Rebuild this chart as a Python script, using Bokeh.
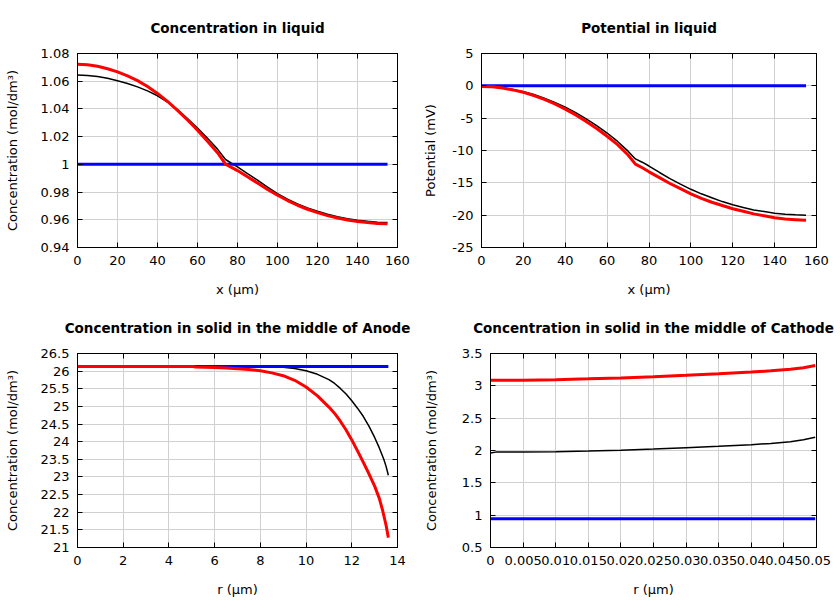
from bokeh.plotting import figure
from bokeh.layouts import column, row
from bokeh.models import LinearAxis, FixedTicker, CustomJSTickFormatter, Range1d
from bokeh.embed import file_html
from bokeh.resources import INLINE

# ---------------- data ----------------
# Concentration in liquid
liq_x = [0, 5, 10, 15, 20, 25, 30, 35, 40, 45, 50, 55, 60, 65, 70, 74, 77, 80, 85, 90,
         95, 100, 105, 110, 115, 120, 125, 130, 135, 140, 145, 150, 155]
liq_c_red = [1.0722, 1.0719, 1.0708, 1.0690, 1.0667, 1.0638, 1.0604, 1.0562, 1.0512,
             1.0454, 1.0390, 1.0320, 1.0247, 1.0167, 1.0084, 1.0002, 0.9978, 0.9955,
             0.9910, 0.9865, 0.9819, 0.9777, 0.9739, 0.9705, 0.9676, 0.9652, 0.9630,
             0.9613, 0.9599, 0.9588, 0.9580, 0.9574, 0.9571]
liq_c_black = [1.0645, 1.0642, 1.0634, 1.0621, 1.0604, 1.0584, 1.0559, 1.0530, 1.0495,
               1.0450, 1.0395, 1.0330, 1.0262, 1.0188, 1.0110, 1.0035, 1.0008, 0.9982,
               0.9934, 0.9886, 0.9835, 0.9788, 0.9749, 0.9715, 0.9686, 0.9662, 0.9640,
               0.9622, 0.9608, 0.9597, 0.9589, 0.9583, 0.9580]
liq_c_blue_x = [0, 155]
liq_c_blue = [1.0, 1.0]

# Potential in liquid
pot_x = [0, 5, 10, 15, 20, 25, 30, 35, 40, 45, 50, 55, 60, 65, 70, 73.5, 77, 80, 85, 90,
         95, 100, 105, 110, 115, 120, 125, 130, 135, 140, 145, 150, 155]
pot_red = [-0.1, -0.15, -0.35, -0.63, -1.0, -1.5, -2.1, -2.8, -3.6, -4.5, -5.5, -6.6,
           -7.8, -9.1, -10.7, -12.1, -12.7, -13.3, -14.2, -15.1, -15.9, -16.7, -17.4,
           -18.0, -18.5, -19.0, -19.4, -19.8, -20.1, -20.4, -20.6, -20.7, -20.8]
pot_black = [0.0, -0.1, -0.3, -0.55, -0.9, -1.35, -1.9, -2.55, -3.3, -4.15, -5.1, -6.15,
             -7.3, -8.6, -10.1, -11.3, -11.85, -12.4, -13.4, -14.35, -15.2, -16.0, -16.7,
             -17.3, -17.9, -18.4, -18.8, -19.2, -19.45, -19.7, -19.85, -19.95, -20.0]
pot_blue_x = [0, 155]
pot_blue = [0.0, 0.0]

# Concentration in solid, anode
an_red_x = [0, 5.1, 5.15, 6, 6.5, 7, 7.5, 8, 8.5, 9, 9.5, 10, 10.5, 11, 11.25, 11.5,
            11.75, 12, 12.25, 12.5, 12.75, 13.0, 13.2, 13.35, 13.5, 13.6]
an_red = [26.13, 26.13, 26.115, 26.105, 26.09, 26.07, 26.045, 26.01, 25.95, 25.87,
          25.74, 25.55, 25.30, 24.98, 24.80, 24.58, 24.33, 24.05, 23.74, 23.42, 23.09,
          22.74, 22.40, 22.05, 21.63, 21.28]
an_black_x = [0, 8, 8.5, 9, 9.5, 10, 10.5, 11, 11.25, 11.5, 11.75, 12, 12.25, 12.5,
              12.75, 13.0, 13.2, 13.4, 13.5, 13.6]
an_black = [26.13, 26.13, 26.125, 26.11, 26.075, 26.01, 25.91, 25.76, 25.65, 25.51,
            25.35, 25.16, 24.95, 24.72, 24.44, 24.12, 23.83, 23.5, 23.3, 23.05]
an_blue_x = [0, 13.6]
an_blue = [26.13, 26.13]

# Concentration in solid, cathode
ca_red_x = [0, 0.005, 0.01, 0.015, 0.02, 0.025, 0.03, 0.035, 0.04, 0.043, 0.046, 0.048, 0.0498]
ca_red = [3.085, 3.088, 3.095, 3.108, 3.123, 3.142, 3.163, 3.187, 3.213, 3.232, 3.255, 3.28, 3.315]
ca_black_x = [0, 0.0008, 0.005, 0.01, 0.015, 0.02, 0.025, 0.03, 0.035, 0.04, 0.043, 0.046, 0.048, 0.0498]
ca_black = [1.96, 1.975, 1.977, 1.982, 1.992, 2.005, 2.023, 2.043, 2.065, 2.09, 2.11, 2.135, 2.165, 2.205]
ca_blue_x = [0, 0.0498]
ca_blue = [0.945, 0.945]

# ticks
liq_xticks = [0, 20, 40, 60, 80, 100, 120, 140, 160]
liq_yticks = [0.94, 0.96, 0.98, 1.0, 1.02, 1.04, 1.06, 1.08]
pot_yticks = [-25, -20, -15, -10, -5, 0, 5]
an_xticks = [0, 2, 4, 6, 8, 10, 12, 14]
an_yticks = [21, 21.5, 22, 22.5, 23, 23.5, 24, 24.5, 25, 25.5, 26, 26.5]
ca_xticks = [0, 0.005, 0.01, 0.015, 0.02, 0.025, 0.03, 0.035, 0.04, 0.045, 0.05]
ca_yticks = [0.5, 1, 1.5, 2, 2.5, 3, 3.5]

FONT = "DejaVu Sans"
fmt_code = "return String(Number(tick.toFixed(6)));"


def style_axis(ax, ticks, label=True):
    ax.ticker = FixedTicker(ticks=ticks)
    ax.axis_line_color = "black"
    ax.major_tick_line_color = "black"
    ax.major_tick_in = 5
    ax.major_tick_out = 0
    ax.minor_tick_line_color = None
    ax.major_label_text_font = FONT
    if label:
        ax.formatter = CustomJSTickFormatter(code=fmt_code)
        ax.major_label_text_color = "black"
        ax.major_label_text_font_size = "13px"
        ax.major_label_standoff = 8
    else:
        ax.formatter = CustomJSTickFormatter(code="return '';")
        ax.major_label_text_color = None
        ax.major_label_text_font_size = "1px"
        ax.major_label_standoff = 0
        ax.axis_label_standoff = 0
    ax.axis_label_text_font = FONT
    ax.axis_label_text_font_size = "13px"
    ax.axis_label_text_font_style = "normal"
    ax.axis_label_text_color = "black"


def make(title, xlabel, ylabel, xr, yr, xt, yt, bl, br, ystand):
    p = figure(width=420, height=300, x_range=Range1d(*xr), y_range=Range1d(*yr),
               min_border_left=bl, min_border_right=br, min_border_top=52,
               min_border_bottom=53, output_backend="svg", toolbar_location=None,
               title=title)
    p.title.text_font = FONT
    p.title.text_font_size = "13.5px"
    p.title.text_font_style = "bold"
    p.title.text_color = "black"
    p.title.align = "center"
    p.title.standoff = 35
    p.outline_line_color = "black"
    p.outline_line_width = 1
    style_axis(p.xaxis[0], xt)
    style_axis(p.yaxis[0], yt)
    p.xaxis[0].axis_label = xlabel
    p.yaxis[0].axis_label = ylabel
    p.yaxis[0].axis_label_standoff = ystand
    p.xaxis[0].axis_label_standoff = 14
    ra = LinearAxis()
    style_axis(ra, yt, label=False)
    p.add_layout(ra, "right")
    ta = LinearAxis()
    style_axis(ta, xt, label=False)
    p.add_layout(ta, "above")
    p.xgrid.ticker = FixedTicker(ticks=xt)
    p.ygrid.ticker = FixedTicker(ticks=yt)
    p.xgrid.grid_line_color = "#d0d0d0"
    p.ygrid.grid_line_color = "#d0d0d0"
    return p


p1 = make("Concentration in liquid", "x (µm)", "Concentration (mol/dm³)",
          (0, 160), (0.94, 1.08), liq_xticks, liq_yticks, 77, 23, 18)
p1.line(liq_x, liq_c_black, color="black", line_width=1.5)
p1.line(liq_c_blue_x, liq_c_blue, color="#0000ff", line_width=3)
p1.line(liq_x, liq_c_red, color="#ff0000", line_width=3)

p2 = make("Potential in liquid", "x (µm)", "Potential (mV)",
          (0, 160), (-25, 5), liq_xticks, pot_yticks, 61, 24, 11)
p2.line(pot_x, pot_black, color="black", line_width=1.5)
p2.line(pot_blue_x, pot_blue, color="#0000ff", line_width=3)
p2.line(pot_x, pot_red, color="#ff0000", line_width=3)

p3 = make("Concentration in solid in the middle of Anode", "r (µm)", "Concentration (mol/dm³)",
          (0, 14), (21, 26.5), an_xticks, an_yticks, 77, 23, 18)
p3.line(an_black_x, an_black, color="black", line_width=1.5)
p3.line(an_blue_x, an_blue, color="#0000ff", line_width=3)
p3.line(an_red_x, an_red, color="#ff0000", line_width=3)

p4 = make("Concentration in solid in the middle of Cathode", "r (µm)", "Concentration (mol/dm³)",
          (0, 0.05), (0.5, 3.5), ca_xticks, ca_yticks, 69, 24, 20)
p4.line(ca_black_x, ca_black, color="black", line_width=1.5)
p4.line(ca_blue_x, ca_blue, color="#0000ff", line_width=3)
p4.line(ca_red_x, ca_red, color="#ff0000", line_width=3)

layout = column(row(p1, p2), row(p3, p4))

open("out.html", "w").write(file_html(layout, INLINE))
